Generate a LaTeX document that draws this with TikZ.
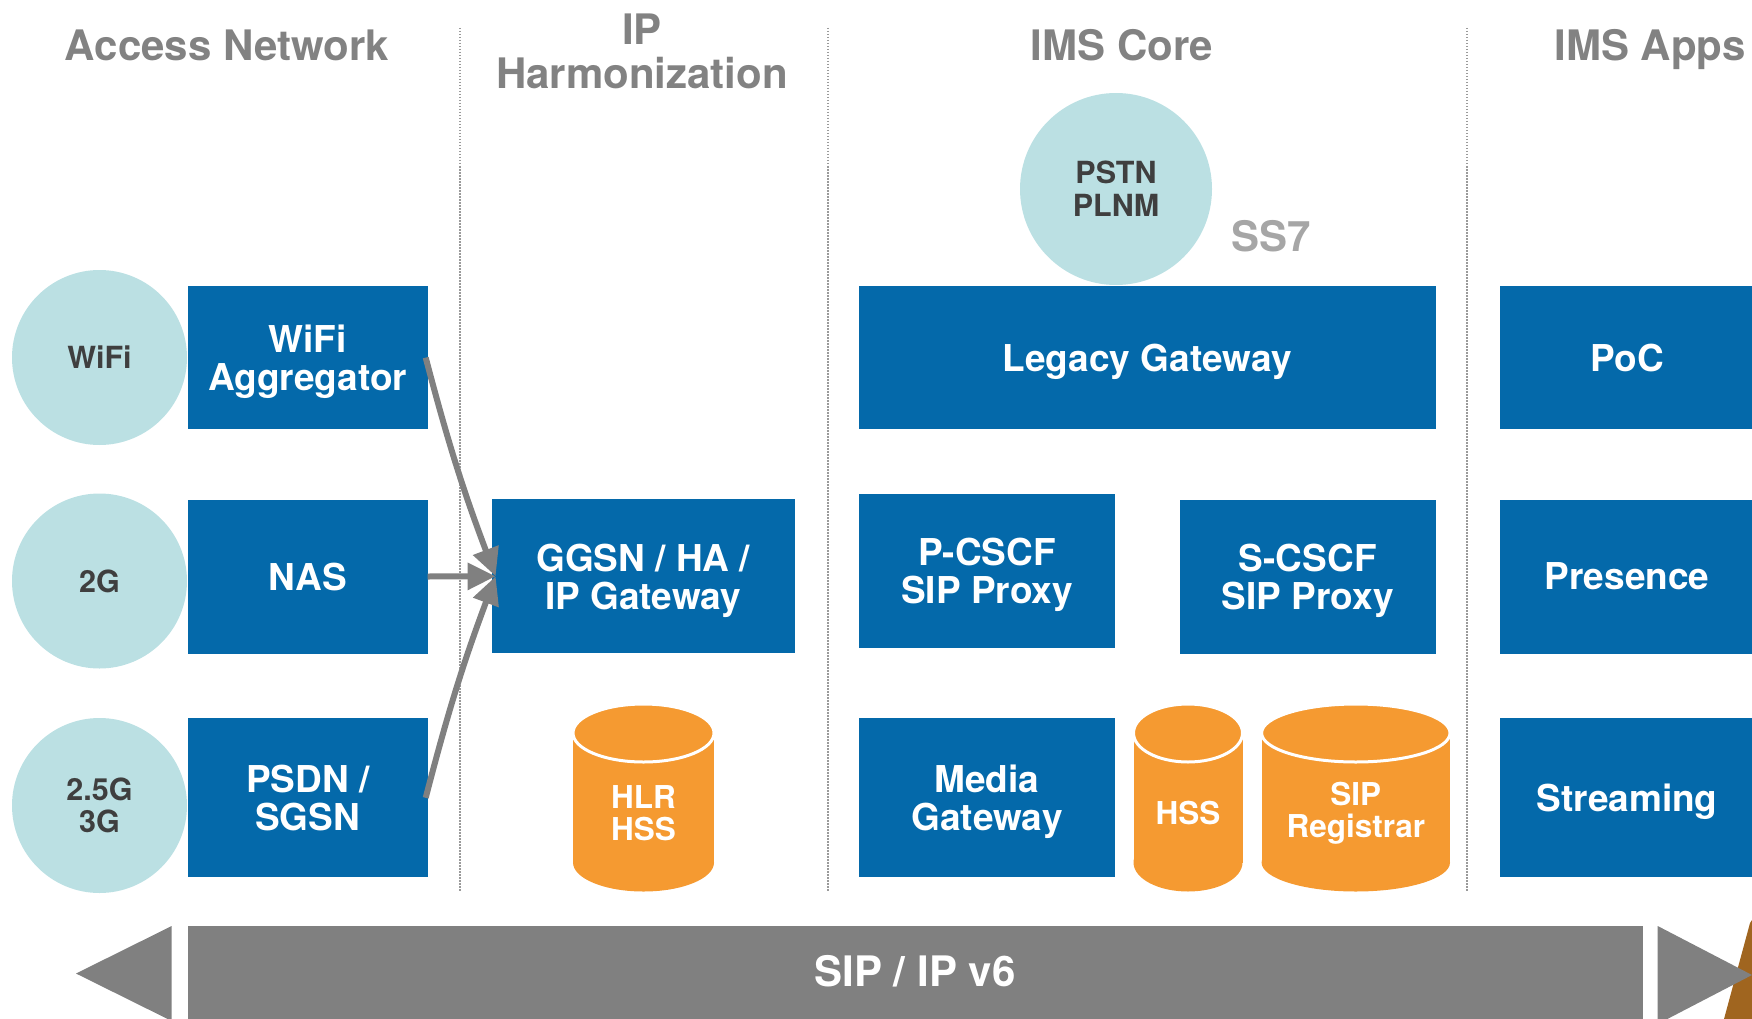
\documentclass[tikz,border=0pt]{standalone}
\usepackage{fontspec}
\setmainfont{TeX Gyre Heros}
\usetikzlibrary{arrows.meta}
\definecolor{boxblue}{HTML}{0469AA}
\definecolor{circfill}{HTML}{BBE0E3}
\definecolor{dborange}{HTML}{F59A31}
\definecolor{bargray}{HTML}{808080}
\definecolor{titlegray}{HTML}{828282}
\definecolor{ssgray}{HTML}{A6A6A6}
\definecolor{darktext}{HTML}{3F3F3F}
\definecolor{sepgray}{HTML}{9A9A9A}
\definecolor{brownish}{HTML}{A0651F}

\newcommand{\ttlfont}{\bfseries\fontsize{42}{44.5}\selectfont}
\newcommand{\bxfont}{\bfseries\fontsize{37}{38}\selectfont}
\newcommand{\cirfont}{\bfseries\fontsize{30.5}{32.7}\selectfont}
\newcommand{\cylfont}{\bfseries\fontsize{31.5}{32}\selectfont}
\newcommand{\barfont}{\bfseries\fontsize{42}{44}\selectfont}

\tikzset{
 bluebox/.style={fill=boxblue, text=white, font=\bxfont, align=center, inner sep=0pt, outer sep=0pt, text depth=0pt},
 netcircle/.style={circle, fill=circfill, text=darktext, font=\cirfont, align=center, inner sep=0pt, minimum size=175pt},
 ttl/.style={text=titlegray, font=\ttlfont, align=center, inner sep=0pt},
 sepline/.style={draw=sepgray, line width=1.5pt, dash pattern=on 1.5pt off 1.5pt},
 flow/.style={draw=bargray, line width=6pt, -{Triangle[length=28pt,width=26pt]}},
 dbfill/.style={fill=dborange},
 dbtext/.style={text=white, font=\cylfont, align=center, inner sep=0pt},
 barfill/.style={fill=bargray},
}

% #1 name, #2 centre x, #3 x radius, #4 top y, #5 bottom y, #6 text
\newcommand{\dbcyl}[6]{%
  \fill[dbfill] (#2-#3, #4+29) rectangle (#2+#3, #5-29);
  \fill[dbfill] (#2, #5-29) ellipse [x radius=#3pt, y radius=29pt];
  \filldraw[dbfill, draw=white, line width=3pt] (#2, #4+29) ellipse [x radius=#3pt, y radius=29pt];
  \node[dbtext] (#1) at (#2, {(#4+#5)/2+15.5}) {#6};
}

\begin{document}
\begin{tikzpicture}[x=1pt, y=-1pt]
\useasboundingbox (0,0) rectangle (1752,1019);

% column titles
\node[ttl, anchor=base] (tAccess) at (227,61) {Access Network};
\node[ttl] (tIP) at (642,51.5) {IP\\Harmonization};
\node[ttl, anchor=base] (tCore) at (1122,61) {IMS Core};
\node[ttl, anchor=base] (tApps) at (1650,61) {IMS Apps};

% separators
\coordinate (s1a) at (460,28); \coordinate (s1b) at (460,892);
\coordinate (s2a) at (828,28); \coordinate (s2b) at (828,892);
\coordinate (s3a) at (1467,28); \coordinate (s3b) at (1467,892);
\draw[sepline] (s1a) -- (s1b);
\draw[sepline] (s2a) -- (s2b);
\draw[sepline] (s3a) -- (s3b);

% access network circles
\node[netcircle] (cwifi) at (99.5,357.5) {WiFi};
\node[netcircle] (c2g) at (99.5,581) {2G};
\node[netcircle] (c3g) at (99.5,805.5) {2.5G\\3G};

% access network boxes
\node[bluebox, minimum width=240pt, minimum height=143pt] (wagg) at (307.7,357.6) {WiFi\\Aggregator};
\node[bluebox, minimum width=240pt, minimum height=154pt] (nas) at (307.7,576.5) {NAS};
\node[bluebox, minimum width=240pt, minimum height=159pt] (psdn) at (307.7,797.8) {PSDN /\\SGSN};

% IP harmonization
\node[bluebox, minimum width=303.3pt, minimum height=154pt] (ggsn) at (643.3,576.3) {GGSN / HA /\\IP Gateway};
\dbcyl{hlr}{643.5}{70.5}{704}{891.5}{HLR\\HSS}

% arrows
\coordinate (tip) at ([xshift=4pt]ggsn.west);
\draw[flow] ([xshift=-2pt]wagg.east) to[bend right=3] (tip);
\draw[flow] (nas.east) -- (tip);
\draw[flow] ([xshift=-2pt]psdn.east) to[bend left=3] (tip);

% IMS core
\node[circle, fill=circfill, text=darktext, font=\cirfont, align=center, inner sep=0pt, minimum size=192pt] (pstn) at (1116,189) {PSTN\\PLNM};
\node[text=ssgray, font=\barfont, anchor=base, inner sep=0pt] (ss7) at (1271,251.7) {SS7};
\node[bluebox, minimum width=576.7pt, minimum height=143pt] (legacy) at (1147.3,357.6) {Legacy Gateway};
\node[bluebox, minimum width=256pt, minimum height=154pt] (pcscf) at (987,571) {P-CSCF\\SIP Proxy};
\node[bluebox, minimum width=255.7pt, minimum height=154pt] (scscf) at (1307.8,576.5) {S-CSCF\\SIP Proxy};
\node[bluebox, minimum width=256pt, minimum height=159pt] (media) at (987,797.8) {Media\\Gateway};
\dbcyl{hss}{1188}{54.5}{704}{891.5}{HSS}
\dbcyl{sipreg}{1355.8}{94.2}{704}{891.5}{SIP\\Registrar}

% IMS apps
\node[bluebox, minimum width=255pt, minimum height=143pt] (poc) at (1627,357.6) {PoC};
\node[bluebox, minimum width=255pt, minimum height=154pt] (presence) at (1627,576.5) {Presence};
\node[bluebox, minimum width=255pt, minimum height=159pt] (streaming) at (1627,797.8) {Streaming};

% bottom SIP / IPv6 bar
\fill[brownish] (1750,923) -- (1752,920) -- (1752,1019) -- (1724,1019) -- cycle;
\fill[barfill] (187.7,926) rectangle (1643,1030);
\fill[barfill] (171.7,926) -- (76,973.5) -- (171.7,1021) -- cycle;
\fill[barfill] (1657.7,926) -- (1752,975) -- (1657.7,1024) -- cycle;
\node[text=white, font=\barfont, inner sep=0pt] (sipv6) at (915,971) {SIP / IP v6};
\end{tikzpicture}
\end{document}
